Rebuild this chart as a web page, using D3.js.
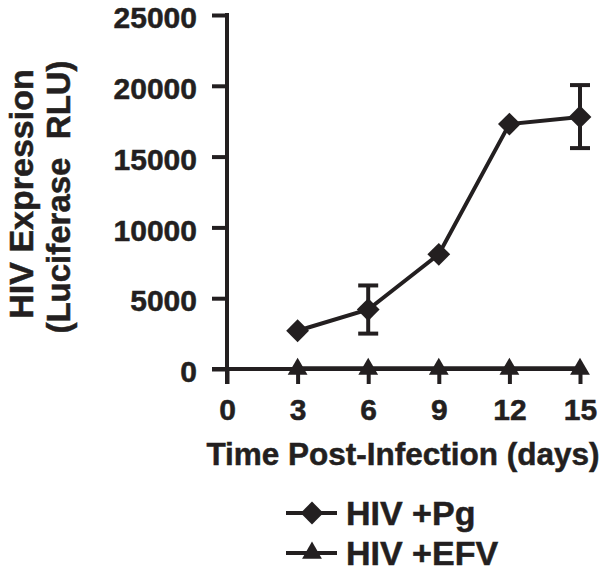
<!DOCTYPE html>
<html><head><meta charset="utf-8">
<script src="https://cdn.jsdelivr.net/npm/d3@7"></script>
<style>body{margin:0;background:#fff}svg{display:block}</style>
</head><body>
<svg id="c" width="604" height="574"></svg>
<script>
const days = [3, 6, 9, 12, 15];
const pgValues = [2700, 4200, 8100, 17300, 17800];
const pgErrLow = [2700, 2500, 8100, 17300, 15600];
const pgErrHigh = [2700, 5900, 8100, 17300, 20050];
const efvValues = [60, 60, 60, 60, 60];
const xTicks = [0, 3, 6, 9, 12, 15];
const yTicks = [0, 5000, 10000, 15000, 20000, 25000];
const seriesNames = ["HIV +Pg", "HIV +EFV"];

const ink = "#231f20";
const font = "'Liberation Sans', Arial, sans-serif";
const svg = d3.select("#c");
const x = d3.scaleLinear().domain([0, 15]).range([227, 580]);
const y = d3.scaleLinear().domain([0, 25000]).range([369, 15]);

// axes
const yAx = svg.append("g").attr("transform", "translate(227,0)")
  .call(d3.axisLeft(y).tickValues(yTicks).tickSize(15).tickPadding(15).tickFormat(d3.format("d")));
const xAx = svg.append("g").attr("transform", "translate(0,369)")
  .call(d3.axisBottom(x).tickValues(xTicks).tickSize(15).tickPadding(15).tickFormat(d3.format("d")));
[yAx, xAx].forEach(a => {
  a.select(".domain").remove();
  a.selectAll("line").attr("stroke", ink).attr("stroke-width", 4);
  a.selectAll("text").attr("fill", ink).attr("font-family", font)
    .attr("font-weight", "bold").attr("font-size", 30)
    .attr("stroke", ink).attr("stroke-width", 0.5);
});
yAx.selectAll("text").attr("dy", "0.42em");
svg.append("line").attr("x1", 227).attr("x2", 227).attr("y1", y(25000)-2).attr("y2", 384)
  .attr("stroke", ink).attr("stroke-width", 4);
svg.append("line").attr("x1", 212).attr("x2", x(15)).attr("y1", y(0)).attr("y2", y(0))
  .attr("stroke", ink).attr("stroke-width", 4);

// axis titles
svg.append("text").attr("x", 403).attr("y", 465).attr("text-anchor", "middle")
  .attr("font-family", font).attr("font-weight", "bold").attr("font-size", 31.5).attr("fill", ink)
  .attr("stroke", ink).attr("stroke-width", 0.5)
  .text("Time Post-Infection (days)");
const yt = svg.append("text").attr("transform", "translate(33,194) rotate(-90)")
  .attr("text-anchor", "middle").attr("font-family", font).attr("font-weight", "bold")
  .attr("font-size", 34).attr("fill", ink).attr("stroke", ink).attr("stroke-width", 0.5)
  .style("white-space", "pre");
yt.append("tspan").attr("x", 0).attr("dy", 0).text("HIV Expression");
yt.append("tspan").attr("x", -3).attr("dy", 37).attr("font-size", 33).text("(Luciferase  RLU)");

const line = d3.line().x(d => x(d[0])).y(d => y(d[1]));
const pg = days.map((d, i) => [d, pgValues[i]]);
const efv = days.map((d, i) => [d, efvValues[i]]);

// error bars
days.forEach((d, i) => {
  if (pgErrHigh[i] - pgErrLow[i] < 1) return;
  const g = svg.append("g").attr("stroke", ink).attr("stroke-width", 4);
  g.append("line").attr("x1", x(d)).attr("x2", x(d)).attr("y1", y(pgErrLow[i])).attr("y2", y(pgErrHigh[i]));
  [pgErrLow[i], pgErrHigh[i]].forEach(v => g.append("line")
    .attr("x1", x(d) - 10).attr("x2", x(d) + 10).attr("y1", y(v)).attr("y2", y(v)));
});

svg.append("path").datum(efv).attr("d", line).attr("fill", "none").attr("stroke", ink).attr("stroke-width", 4);
svg.append("path").datum(pg).attr("d", line).attr("fill", "none").attr("stroke", ink).attr("stroke-width", 4);

const diamond = d3.symbol().type(d3.symbolSquare).size(260);
const tri = d3.symbol().type(d3.symbolTriangle).size(170);
svg.selectAll(".pgm").data(pg).join("path").attr("d", diamond)
  .attr("transform", d => `translate(${x(d[0])},${y(d[1])}) rotate(45)`).attr("fill", ink);
svg.selectAll(".efm").data(efv).join("path").attr("d", tri)
  .attr("transform", d => `translate(${x(d[0])},${y(d[1]) + 1})`).attr("fill", ink);

// legend
const leg = [{name: seriesNames[0], sym: diamond, rot: 45, cy: 513},
             {name: seriesNames[1], sym: tri, rot: 0, cy: 553}];
leg.forEach(l => {
  svg.append("line").attr("x1", 286).attr("x2", 337).attr("y1", l.cy).attr("y2", l.cy)
    .attr("stroke", ink).attr("stroke-width", 4);
  svg.append("path").attr("d", l.sym).attr("fill", ink)
    .attr("transform", `translate(312,${l.cy}) rotate(${l.rot})`);
  svg.append("text").attr("x", 346).attr("y", l.cy + 12).attr("font-family", font)
    .attr("font-weight", "bold").attr("font-size", 34).attr("fill", ink)
    .attr("stroke", ink).attr("stroke-width", 0.5).text(l.name);
});
</script>
</body></html>
